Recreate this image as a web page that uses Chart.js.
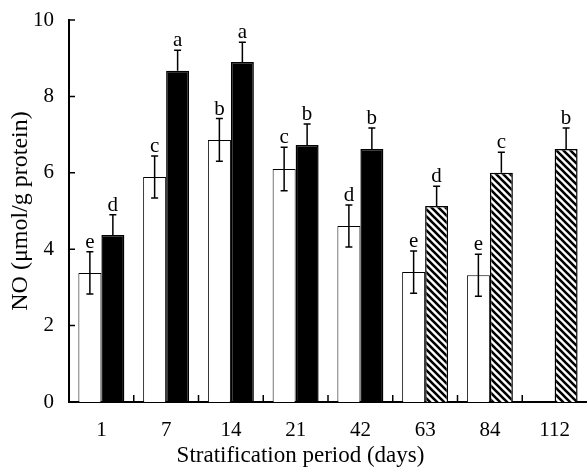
<!DOCTYPE html>
<html>
<head>
<meta charset="utf-8">
<script src="https://cdn.jsdelivr.net/npm/chart.js@4/dist/chart.umd.min.js"></script>
<style>
html,body{margin:0;padding:0;background:#fff;}
#wrap{width:587px;height:467px;position:relative;}
</style>
</head>
<body>
<div id="wrap"><canvas id="c" width="587" height="467"></canvas></div>
<script>
// ---- data ----
const categories = ['1', '7', '14', '21', '42', '63', '84', '112'];
const controlValues = [3.38, 5.89, 6.86, 6.10, 4.61, 3.40, 3.32, null];
const controlErrors = [0.55, 0.55, 0.56, 0.57, 0.55, 0.55, 0.55, null];
const controlLetters = ['e', 'c', 'b', 'c', 'd', 'e', 'e', null];
const treatedValues = [4.37, 8.67, 8.90, 6.73, 6.62, 5.13, 6.00, 6.62];
const treatedErrors = [0.53, 0.54, 0.52, 0.55, 0.55, 0.52, 0.54, 0.55];
const treatedLetters = ['d', 'a', 'a', 'b', 'b', 'd', 'c', 'b'];
const yTicks = [0, 2, 4, 6, 8, 10];
const hatchedCategories = ['63', '84', '112'];
const xTitle = 'Stratification period (days)';
const yTitle = 'NO (μmol/g protein)';

const FONT = '"Liberation Serif", "Times New Roman", serif';

// hatch pattern
function makeHatch() {
  const s = 7;
  const pc = document.createElement('canvas');
  pc.width = s; pc.height = s;
  const g = pc.getContext('2d');
  g.fillStyle = '#fff';
  g.fillRect(0, 0, s, s);
  g.strokeStyle = '#000';
  g.lineWidth = 2.6;
  g.beginPath();
  g.moveTo(-s, 0); g.lineTo(s * 2, s * 3);
  g.moveTo(-s, -s); g.lineTo(s * 2, s * 2);
  g.moveTo(0, -s); g.lineTo(s * 2, s);
  g.moveTo(-s * 2, -s); g.lineTo(s, s * 2);
  g.stroke();
  return document.getElementById('c').getContext('2d').createPattern(pc, 'repeat');
}
const hatch = makeHatch();

const errorPlugin = {
  id: 'errs',
  afterDatasetsDraw(chart) {
    const ctx = chart.ctx;
    const y = chart.scales.y;
    const sets = [
      { vals: controlValues, errs: controlErrors, letters: controlLetters, both: true },
      { vals: treatedValues, errs: treatedErrors, letters: treatedLetters, both: false }
    ];
    ctx.save();
    sets.forEach((s, di) => {
      const meta = chart.getDatasetMeta(di);
      meta.data.forEach((bar, i) => {
        const v = s.vals[i];
        if (v === null || v === undefined) return;
        const e = s.errs[i];
        const xc = bar.x;
        const top = y.getPixelForValue(v + e);
        const bot = s.both ? y.getPixelForValue(v - e) : y.getPixelForValue(v);
        ctx.strokeStyle = '#000';
        ctx.lineWidth = 1.5;
        ctx.beginPath();
        ctx.moveTo(xc, top); ctx.lineTo(xc, bot);
        ctx.moveTo(xc - 3.5, top); ctx.lineTo(xc + 3.5, top);
        if (s.both) { ctx.moveTo(xc - 3.5, bot); ctx.lineTo(xc + 3.5, bot); }
        ctx.stroke();
        if (s.letters[i]) {
          ctx.fillStyle = '#000';
          ctx.font = '21px ' + FONT;
          ctx.textAlign = 'center';
          ctx.textBaseline = 'alphabetic';
          ctx.fillText(s.letters[i], xc, top - 4);
        }
      });
    });
    // inward ticks
    const x = chart.scales.x;
    const area = chart.chartArea;
    ctx.lineWidth = 1.5;
    ctx.beginPath();
    for (let i = 0; i < categories.length - 1; i++) {
      const bx = (x.getPixelForValue(i) + x.getPixelForValue(i + 1)) / 2;
      ctx.moveTo(bx, area.bottom); ctx.lineTo(bx, area.bottom - 7);
    }
    yTicks.forEach(t => {
      const py = y.getPixelForValue(t);
      ctx.moveTo(area.left, py); ctx.lineTo(area.left + 6, py);
    });
    ctx.stroke();
    // x-axis title (centred under the figure as in the original)
    ctx.fillStyle = '#000';
    ctx.font = '23px ' + FONT;
    ctx.textAlign = 'center';
    ctx.textBaseline = 'alphabetic';
    ctx.fillText(xTitle, chart.width / 2 + 7, area.bottom + 60);
    ctx.restore();
  }
};

new Chart(document.getElementById('c'), {
  type: 'bar',
  data: {
    labels: categories,
    datasets: [
      {
        data: controlValues,
        backgroundColor: '#fff',
        borderColor: '#000',
        borderWidth: 1,
        categoryPercentage: 0.71,
        barPercentage: 1
      },
      {
        data: treatedValues,
        backgroundColor: (c) => hatchedCategories.includes(categories[c.dataIndex]) ? hatch : '#000',
        borderColor: '#000',
        borderWidth: 1.5,
        categoryPercentage: 0.71,
        barPercentage: 1
      }
    ]
  },
  plugins: [errorPlugin],
  options: {
    responsive: false,
    animation: false,
    devicePixelRatio: 1,
    layout: { autoPadding: false, padding: { top: 20, right: 0, left: 6, bottom: 2 } },
    plugins: { legend: { display: false }, tooltip: { enabled: false } },
    scales: {
      x: {
        grid: { display: false, drawTicks: false },
        border: { display: true, color: '#000', width: 2 },
        ticks: { color: '#000', font: { family: FONT, size: 21 }, padding: 16, maxRotation: 0 },
        title: { display: false },
        afterFit: (s) => { s.height = 63; s.paddingLeft = 0; s.paddingRight = 0; }
      },
      y: {
        min: 0, max: 10,
        afterBuildTicks: (s) => { s.ticks = yTicks.map(v => ({ value: v })); },
        grid: { display: false, drawTicks: false },
        border: { display: true, color: '#000', width: 2 },
        ticks: { color: '#000', font: { family: FONT, size: 21 }, padding: 15 },
        title: { display: true, text: yTitle, color: '#000', font: { family: FONT, size: 24 }, padding: { top: 0, bottom: 2 } },
        afterFit: (s) => { s.width = 63; s.paddingTop = 0; s.paddingBottom = 0; }
      }
    }
  }
});
</script>
</body>
</html>
